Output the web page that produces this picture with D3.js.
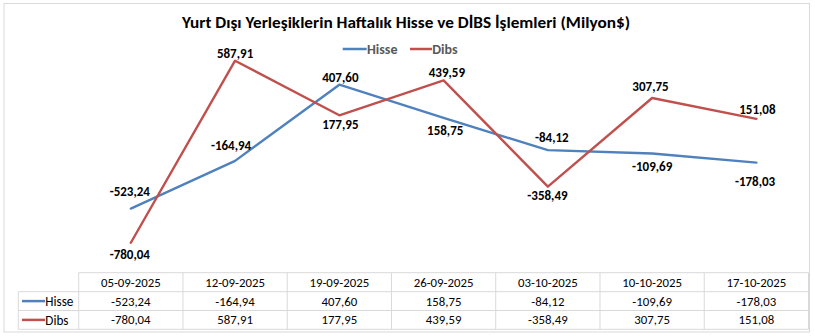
<!DOCTYPE html>
<html>
<head>
<meta charset="utf-8">
<script src="https://cdn.jsdelivr.net/npm/d3@7"></script>
<style>
  html, body { margin: 0; padding: 0; background: #fff; }
  svg { display: block; }
  text { font-family: Carlito, Lato, "Open Sans", sans-serif; }
</style>
</head>
<body>
<svg id="chart" width="815" height="336"></svg>
<script>
// ---- data ----
const title = "Yurt Dışı Yerleşiklerin Haftalık Hisse ve DİBS İşlemleri (Milyon$)";
const dates = ["05-09-2025", "12-09-2025", "19-09-2025", "26-09-2025", "03-10-2025", "10-10-2025", "17-10-2025"];
const seriesNames = ["Hisse", "Dibs"];
const hisse = [-523.24, -164.94, 407.60, 158.75, -84.12, -109.69, -178.03];
const dibs = [-780.04, 587.91, 177.95, 439.59, -358.49, 307.75, 151.08];

// ---- label placement (offsets from point, px) ----
const hisseLabelDx = [-1, -4, 1, 1.6, 4, 0, -1.3];
const hisseLabelDy = [-17, -15.7, -7.6, 13, -12.8, 12.5, 18.4];
const dibsLabelDx = [-1, 0, 1, 3.3, -0.4, -1.6, 1];
const dibsLabelDy = [11.6, -7.4, 8.8, -8.4, 8.4, -11.2, -9.8];

const colors = { Hisse: "#4F81BD", Dibs: "#C0504D" };
const fmt = v => d3.format(".2f")(v).replace(".", ",").replace("−", "-");

const svg = d3.select("#chart");

// outer border
svg.append("rect").attr("x", 4).attr("y", 3.5).attr("width", 805.5).attr("height", 328.5)
  .attr("fill", "#fff").attr("stroke", "#D9D9D9").attr("stroke-width", 1);

const x = d3.scaleBand().domain(dates).range([78.7, 808.5]).padding(0);
const cx = d => x(d) + x.bandwidth() / 2;
const y = d3.scaleLinear().domain([-1000, 800]).range([272, 32.5]);

// title
svg.append("text").attr("x", 406).attr("y", 28).attr("text-anchor", "middle")
  .attr("font-size", 15.5).attr("font-weight", "bold").attr("fill", "#000")
  .attr("textLength", 448).attr("lengthAdjust", "spacingAndGlyphs")
  .text(title);

// legend
const legendItems = [
  { name: "Hisse", x1: 342.7, x2: 366.7 },
  { name: "Dibs", x1: 410, x2: 432 }
];
const lg = svg.append("g");
legendItems.forEach(it => {
  lg.append("line").attr("x1", it.x1).attr("x2", it.x2).attr("y1", 49).attr("y2", 49)
    .attr("stroke", colors[it.name]).attr("stroke-width", 2.5);
  lg.append("text").attr("x", it.x2 + 0.3).attr("y", 54).attr("font-size", 14)
    .attr("font-weight", "bold").attr("fill", "#595959").text(it.name);
});

// lines
const seriesData = [
  { name: "Hisse", values: hisse, dx: hisseLabelDx, dy: hisseLabelDy },
  { name: "Dibs", values: dibs, dx: dibsLabelDx, dy: dibsLabelDy }
];
const line = d3.line().x((d, i) => cx(dates[i])).y(d => y(d));
svg.selectAll("path.series").data(seriesData).enter().append("path")
  .attr("class", "series")
  .attr("d", s => line(s.values))
  .attr("fill", "none")
  .attr("stroke", s => colors[s.name])
  .attr("stroke-width", 2.4)
  .attr("stroke-linejoin", "round")
  .attr("stroke-linecap", "round");

// data labels
seriesData.forEach(s => {
  svg.append("g").selectAll("text").data(s.values).enter().append("text")
    .attr("x", (d, i) => cx(dates[i]) + s.dx[i])
    .attr("y", (d, i) => y(d) + s.dy[i] + 4.5)
    .attr("text-anchor", "middle")
    .attr("font-size", 13).attr("font-weight", "bold").attr("fill", "#000")
    .text(d => fmt(d));
});

// data table
const rowY = [272.7, 291.7, 310.5, 329.3];
const tableLeft = 18.3, colLeft = 78.7, tableRight = 808.5;
const grid = svg.append("g").attr("stroke", "#D9D9D9").attr("stroke-width", 1);
// horizontal lines
grid.append("line").attr("x1", colLeft).attr("x2", tableRight).attr("y1", rowY[0]).attr("y2", rowY[0]);
[1, 2, 3].forEach(r => grid.append("line").attr("x1", tableLeft).attr("x2", tableRight)
  .attr("y1", rowY[r]).attr("y2", rowY[r]));
// vertical lines
grid.append("line").attr("x1", tableLeft).attr("x2", tableLeft).attr("y1", rowY[1]).attr("y2", rowY[3]);
dates.forEach(d => grid.append("line").attr("x1", x(d)).attr("x2", x(d)).attr("y1", rowY[0]).attr("y2", rowY[3]));
grid.append("line").attr("x1", tableRight).attr("x2", tableRight).attr("y1", rowY[0]).attr("y2", rowY[3]);

const tt = svg.append("g").attr("font-size", 12.8).attr("fill", "#000").attr("text-anchor", "middle");
tt.selectAll("text.hdr").data(dates).enter().append("text").attr("class", "hdr")
  .attr("x", d => cx(d)).attr("y", (rowY[0] + rowY[1]) / 2 + 4.5).text(d => d);
seriesData.forEach((s, r) => {
  const ym = (rowY[r + 1] + rowY[r + 2]) / 2;
  tt.append("g").selectAll("text").data(s.values).enter().append("text")
    .attr("x", (d, i) => cx(dates[i])).attr("y", ym + 4.5).text(d => fmt(d));
  svg.append("line").attr("x1", 22).attr("x2", 45).attr("y1", ym).attr("y2", ym)
    .attr("stroke", colors[s.name]).attr("stroke-width", 2.5);
  svg.append("text").attr("x", 45.3).attr("y", ym + 4.6).attr("font-size", 13.2)
    .attr("fill", "#000").text(s.name);
});
</script>
</body>
</html>
